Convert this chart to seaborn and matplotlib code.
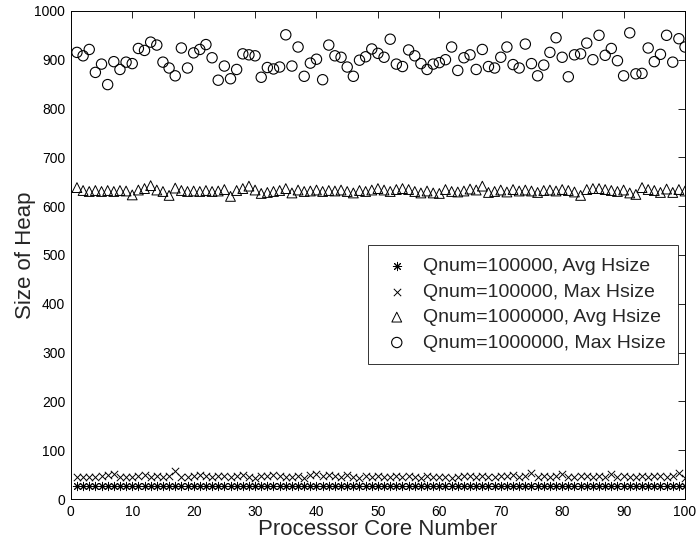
import numpy as np
import pandas as pd
import matplotlib
matplotlib.use("Agg")
import matplotlib.pyplot as plt
import seaborn as sns

cores = list(range(1, 101))

avg_100k = [26, 26, 26, 26, 26, 26, 26, 26, 26, 26,
            26, 26, 26, 26, 26, 26, 26, 26, 26, 26,
            26, 26, 26, 26, 26, 26, 26, 26, 26, 26,
            26, 26, 26, 26, 26, 26, 26, 26, 26, 26,
            26, 26, 26, 26, 26, 26, 26, 26, 26, 26,
            26, 26, 26, 26, 26, 26, 26, 26, 26, 26,
            26, 26, 26, 26, 26, 26, 26, 26, 26, 26,
            26, 26, 26, 26, 26, 26, 26, 26, 26, 26,
            26, 26, 26, 26, 26, 26, 26, 26, 26, 26,
            26, 26, 26, 26, 26, 26, 26, 26, 26, 26]

max_100k = [46, 45, 46, 45, 47, 50, 51, 45, 46, 45,
            47, 50, 46, 47, 45, 47, 57, 46, 46, 48,
            50, 47, 46, 48, 47, 46, 48, 50, 46, 44,
            47, 48, 50, 47, 46, 46, 47, 44, 50, 52,
            48, 50, 47, 46, 49, 45, 44, 48, 46, 47,
            45, 46, 48, 46, 47, 45, 44, 47, 46, 45,
            46, 44, 46, 48, 47, 46, 47, 45, 46, 47,
            48, 50, 46, 47, 53, 45, 47, 46, 48, 51,
            46, 45, 47, 48, 46, 47, 45, 51, 46, 47,
            45, 46, 48, 46, 47, 48, 46, 47, 53, 44]

avg_1m = [638, 632, 630, 632, 630, 632, 630, 632, 631, 623,
          633, 636, 642, 633, 630, 622, 637, 632, 630, 631,
          630, 632, 630, 631, 634, 620, 632, 636, 641, 633,
          626, 628, 630, 632, 636, 627, 633, 630, 631, 633,
          630, 632, 631, 633, 630, 627, 632, 630, 633, 636,
          633, 630, 634, 636, 634, 630, 627, 631, 627, 626,
          634, 630, 629, 631, 635, 633, 641, 628, 630, 633,
          629, 634, 631, 633, 631, 628, 632, 633, 631, 634,
          632, 629, 622, 634, 636, 636, 634, 632, 630, 633,
          627, 624, 638, 634, 632, 628, 635, 628, 634, 631]

max_1m = [915, 908, 921, 874, 891, 849, 896, 880, 895, 892,
          923, 919, 936, 930, 895, 883, 867, 924, 883, 914,
          921, 931, 904, 858, 887, 861, 880, 912, 910, 908,
          864, 884, 881, 885, 951, 887, 926, 866, 893, 901,
          859, 930, 908, 905, 885, 866, 899, 906, 922, 913,
          905, 942, 891, 886, 920, 908, 892, 880, 891, 894,
          900, 926, 878, 904, 910, 880, 921, 886, 883, 905,
          926, 890, 883, 932, 892, 867, 889, 915, 945, 905,
          865, 910, 912, 934, 900, 950, 909, 923, 898, 867,
          955, 871, 872, 924, 896, 911, 950, 895, 943, 926]

labels = ["Qnum=100000, Avg Hsize", "Qnum=100000, Max Hsize",
          "Qnum=1000000, Avg Hsize", "Qnum=1000000, Max Hsize"]

sns.set_theme(style="white")
plt.rcParams['font.family'] = ['Liberation Sans', 'DejaVu Sans']

fig = plt.figure(figsize=(6.99, 5.42), dpi=100)
ax = fig.add_axes([0.1013, 0.0793, 0.8787, 0.9006])

df = pd.DataFrame({"core": cores, "a": avg_100k, "b": max_100k,
                   "c": avg_1m, "d": max_1m})

sns.scatterplot(data=df, x="core", y="a", marker=(8, 2, 0), s=36,
                color="black", linewidth=0.7, ax=ax, label=labels[0])
sns.scatterplot(data=df, x="core", y="b", marker="x", s=28,
                color="black", linewidth=0.7, ax=ax, label=labels[1])
sns.scatterplot(data=df, x="core", y="c", marker="^", s=50,
                facecolor="none", edgecolor="black", linewidth=0.7,
                ax=ax, label=labels[2])
sns.scatterplot(data=df, x="core", y="d", marker="o", s=55,
                facecolor="none", edgecolor="black", linewidth=0.8,
                ax=ax, label=labels[3])

ax.set_xlim(0, 100)
ax.set_ylim(0, 1000)
ax.set_xticks(np.arange(0, 101, 10))
ax.set_yticks(np.arange(0, 1001, 100))
ax.tick_params(direction="in", length=5, width=0.6, top=True, right=True,
               labelsize=10, colors="black", pad=4)
for sp in ax.spines.values():
    sp.set_color("black")
    sp.set_linewidth(0.7)
ax.set_xlabel("Processor Core Number", fontsize=16, labelpad=0)
ax.set_ylabel("Size of Heap", fontsize=16, labelpad=-1)

leg = ax.legend(loc="upper left", bbox_to_anchor=(0.484, 0.52), fontsize=14,
                frameon=True, fancybox=False, edgecolor="black",
                borderaxespad=0, borderpad=0.65, labelspacing=0.4,
                handletextpad=0.5, handlelength=1.65, markerscale=1.0)
leg.get_frame().set_linewidth(0.7)

fig.savefig("out.png", dpi=100)
